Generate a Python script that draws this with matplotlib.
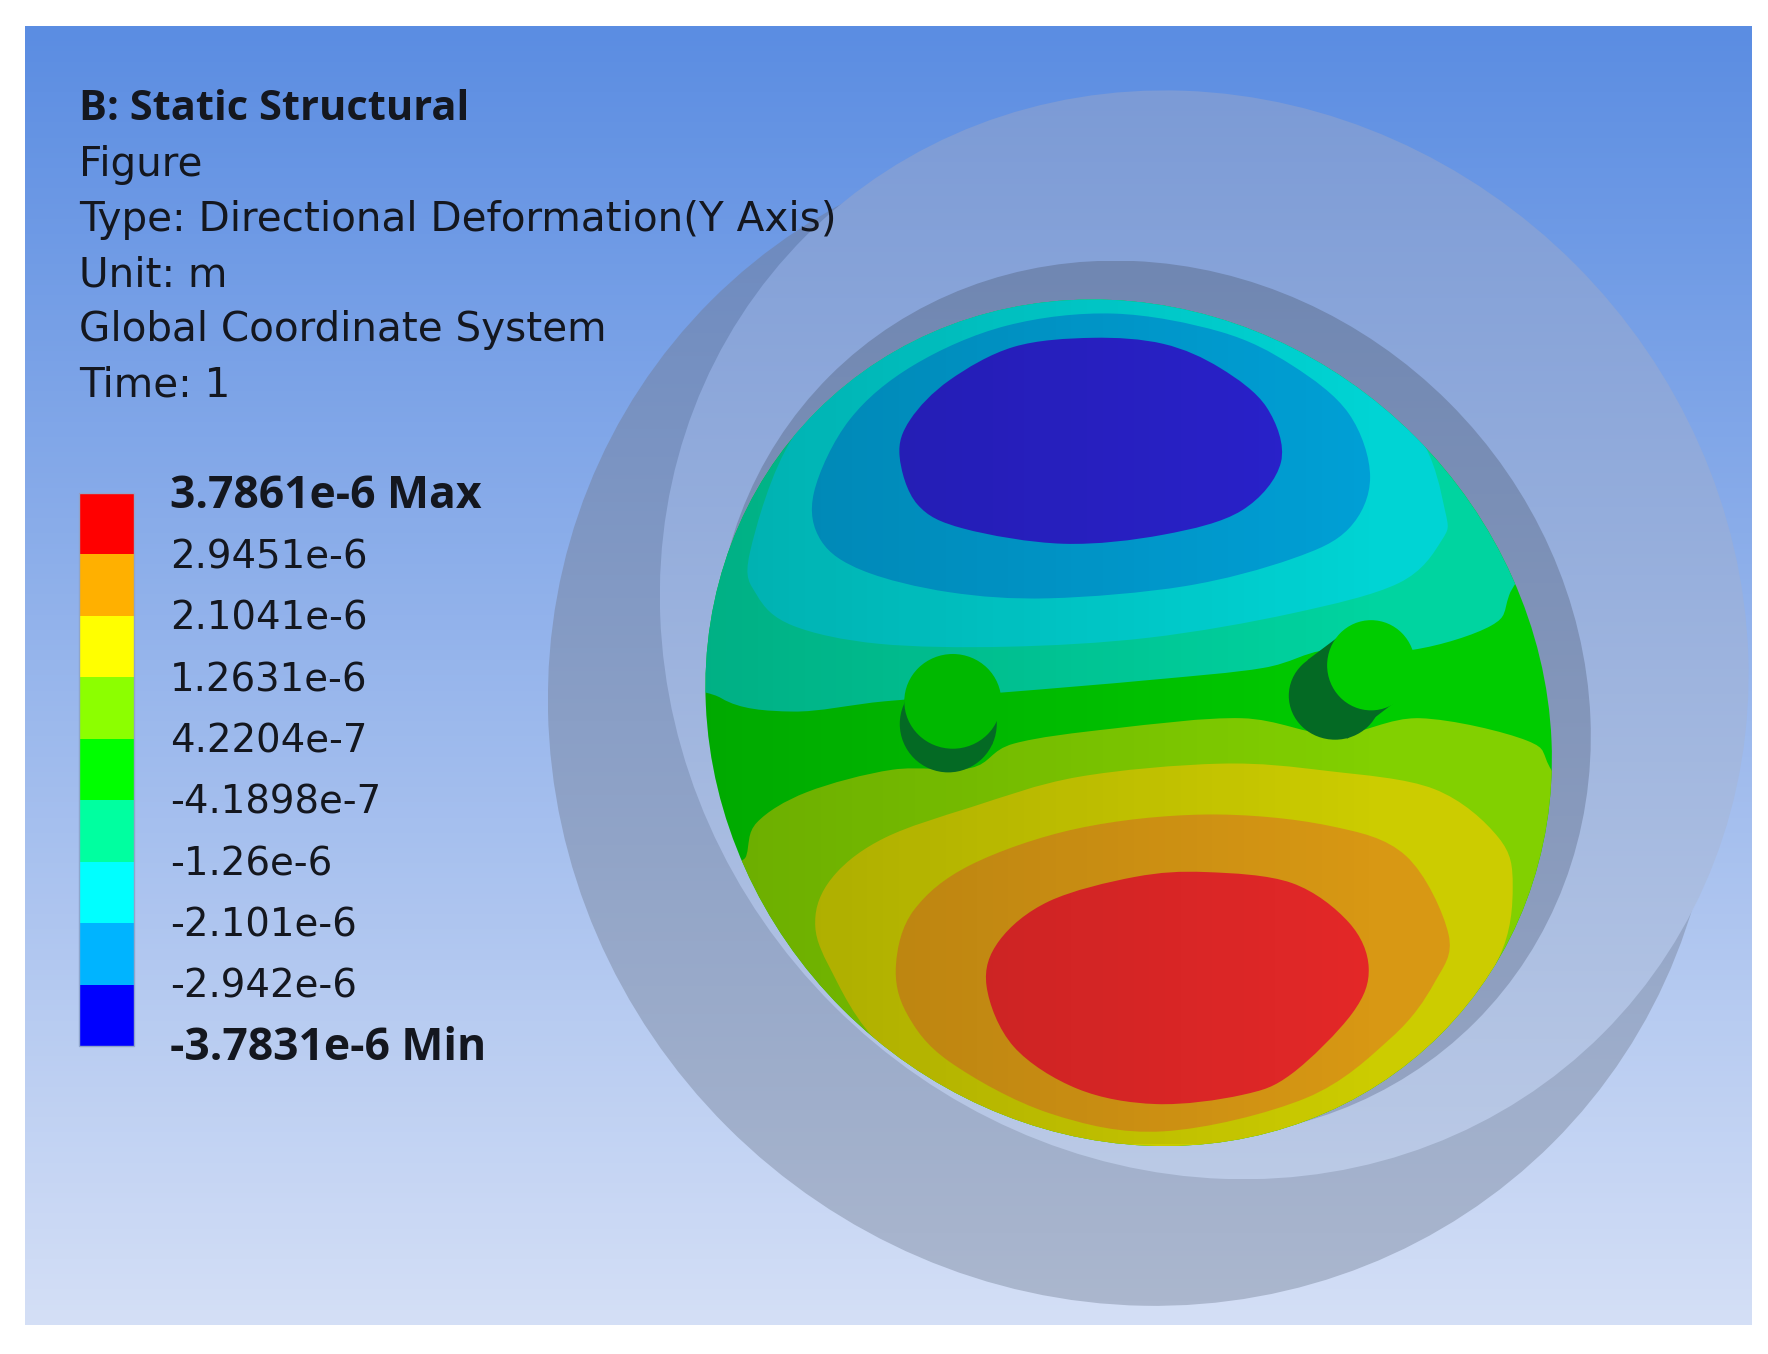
import numpy as np
import matplotlib
matplotlib.use('Agg')
import matplotlib.pyplot as plt
from matplotlib.path import Path
from matplotlib.patches import PathPatch, Ellipse, Rectangle, Polygon

# Text blocks
HEADER_TITLE = 'B: Static Structural'
HEADER_LINES = ['Figure', 'Type: Directional Deformation(Y Axis)', 'Unit: m',
                'Global Coordinate System', 'Time: 1']
LEGEND_LABELS = ['3.7861e-6 Max', '2.9451e-6', '2.1041e-6', '1.2631e-6', '4.2204e-7',
                 '-4.1898e-7', '-1.26e-6', '-2.101e-6', '-2.942e-6', '-3.7831e-6 Min']
LEGEND_COLOURS = ['#ff0000', '#ffb000', '#ffff00', '#8cff00', '#00ff00',
                  '#00ffa0', '#00ffff', '#00b4ff', '#0000ff']

# Housing and sphere as tilted ellipses: centre x, centre y, long axis, short axis
HOUSING_OUTER = (1004, 640, 1056, 1016)
HOUSING_FACE = (1068, 563, 1000, 930)
HOUSING_BORE = (1022, 620, 810, 744)
SPHERE = (1001, 641, 782, 718)

# Contour bands, in crop coordinates of the sphere region
BAND_TEAL = [(40, 650), (100, 740), (200, 762), (330, 745), (500, 730), (700, 710), (860, 690),
             (950, 660), (1070, 660), (1180, 620), (1205, 570), (1230, 450), (1100, 150),
             (620, 20), (150, 200)]
BAND_CYAN = [(140, 500), (150, 570), (200, 620), (320, 650), (500, 655), (700, 640), (900, 600),
             (1050, 550), (1110, 480), (1115, 430), (1075, 300), (950, 150), (800, 60), (620, 40),
             (440, 70), (320, 170), (200, 310)]
BAND_BLUE = [(230, 400), (240, 480), (300, 530), (420, 565), (560, 575), (750, 555), (900, 510),
             (980, 460), (1010, 375), (980, 270), (900, 190), (800, 135), (650, 105), (500, 125),
             (370, 190), (280, 280)]
BAND_DEEP = [(350, 340), (375, 420), (440, 460), (580, 485), (720, 470), (830, 430), (885, 350),
             (865, 260), (800, 195), (720, 155), (620, 145), (510, 160), (420, 215), (365, 280)]
BAND_LIME = [(135, 1000), (150, 945), (220, 895), (340, 858), (450, 855), (510, 815), (650, 790),
             (830, 773), (960, 800), (1080, 773), (1230, 810), (1265, 860), (1330, 1000),
             (1200, 1350), (700, 1540), (300, 1350), (120, 1060)]
BAND_YELLOW = [(232, 1100), (260, 1030), (330, 970), (450, 920), (600, 870), (800, 848), (950, 860),
               (1100, 890), (1190, 970), (1210, 1050), (1190, 1170), (1100, 1320), (900, 1460),
               (700, 1490), (500, 1440), (330, 1320), (250, 1180)]
BAND_ORANGE = [(345, 1180), (370, 1090), (450, 1015), (600, 955), (780, 932), (950, 950),
               (1060, 1000), (1120, 1130), (1100, 1210), (1040, 1300), (920, 1400), (720, 1455),
               (560, 1425), (420, 1340), (360, 1260)]
BAND_RED = [(472, 1215), (490, 1140), (560, 1075), (680, 1035), (780, 1027), (900, 1045),
            (980, 1110), (1008, 1185), (985, 1260), (900, 1360), (830, 1395), (710, 1410),
            (600, 1385), (510, 1315)]

# Pins in view coordinates: dark foot ellipse, link polygon, top ellipse
PIN_LEFT_FOOT = (841, 642, 86, 86)
PIN_LEFT_LINK = [(803, 615), (885, 630), (880, 660), (800, 650)]
PIN_LEFT_TOP = (845, 622, 86, 84)
PIN_RIGHT_FOOT = (1184, 617, 82, 78)
PIN_RIGHT_LINK = [(1160, 585), (1200, 555), (1238, 622), (1195, 655), (1150, 630)]
PIN_RIGHT_TOP = (1216, 590, 78, 80)


def to_view(points):
    pts = np.array(points, dtype=float)
    return pts * [0.6323, 0.5372] + [576.5, 221.7]


def smooth_path(points):
    # closed Catmull-Rom outline as bezier segments
    pts = np.array(points, dtype=float)
    n = len(pts)
    verts = [pts[0]]
    codes = [Path.MOVETO]
    for i in range(n):
        p0, p1, p2, p3 = pts[i - 1], pts[i], pts[(i + 1) % n], pts[(i + 2) % n]
        verts += [p1 + (p2 - p0) / 6, p2 - (p3 - p1) / 6, p2]
        codes += [Path.CURVE4] * 3
    return Path(np.array(verts), codes)


def rgb(c):
    return np.array(c) / 255


def tilted(ax, spec, zorder, **kw):
    e = Ellipse(spec[:2], spec[2], spec[3], angle=45, edgecolor='none', zorder=zorder, **kw)
    return ax.add_patch(e)


def vertical_fill(ax, spec, top, bottom, zorder):
    cx, cy, w, h = spec
    half = np.sqrt((w ** 2 + h ** 2) / 8)
    col = np.linspace(rgb(top), rgb(bottom), 256)[:, None, :]
    im = ax.imshow(col, extent=(cx - half, cx + half, cy + half, cy - half), aspect='auto', zorder=zorder)
    im.set_clip_path(tilted(ax, spec, -1, facecolor='none'))
    return im


fig = plt.figure(figsize=(17.68, 13.54), dpi=100, facecolor='white')
ax = fig.add_axes([0, 0, 1, 1])
ax.axis('off')
ax.set_xlim(0, 1568)
ax.set_ylim(1200.8, 0)

# background gradient
bg = np.linspace(rgb((91, 141, 226)), rgb((212, 223, 246)), 256)[:, None, :]
ax.imshow(bg, extent=(22, 1553, 1175, 23), aspect='auto', zorder=0)

# housing, stacked back to front
vertical_fill(ax, HOUSING_OUTER, (105, 135, 190), (171, 183, 206), 1)
vertical_fill(ax, HOUSING_FACE, (124, 155, 214), (187, 202, 230), 2)
vertical_fill(ax, HOUSING_BORE, (112, 135, 178), (150, 165, 195), 3)

# sphere bands, clipped to the sphere outline
sphere = tilted(ax, SPHERE, 4, facecolor='#00cc00')
bands = [(BAND_TEAL, '#00d4a0'), (BAND_CYAN, '#00d4d4'), (BAND_BLUE, '#00a0d6'), (BAND_DEEP, '#2a22ce'),
         (BAND_LIME, '#82d000'), (BAND_YELLOW, '#cccc00'), (BAND_ORANGE, '#d89814'), (BAND_RED, '#e42828')]
for z, (band, colour) in enumerate(bands):
    patch = PathPatch(smooth_path(to_view(band)), facecolor=colour, edgecolor='none', zorder=5 + z * 0.1)
    ax.add_patch(patch)
    patch.set_clip_path(sphere)

# left side of the sphere is a bit darker
shade = np.zeros((2, 256, 4))
shade[:, :, 3] = np.linspace(0.17, 0.0, 256)
im = ax.imshow(shade, extent=(624, 1228, 1015, 267), aspect='auto', zorder=6)
im.set_clip_path(sphere)

# pins
for foot, link, top, colour in [(PIN_LEFT_FOOT, PIN_LEFT_LINK, PIN_LEFT_TOP, '#00b800'),
                                (PIN_RIGHT_FOOT, PIN_RIGHT_LINK, PIN_RIGHT_TOP, '#00cc00')]:
    ax.add_patch(Ellipse(foot[:2], foot[2], foot[3], facecolor='#046a24', edgecolor='none', zorder=7))
    ax.add_patch(Polygon(link, closed=True, facecolor='#046a24', edgecolor='none', zorder=7))
    ax.add_patch(Ellipse(top[:2], top[2], top[3], facecolor=colour, edgecolor='none', zorder=8))

# legend colour bar
seg = (928 - 437) / len(LEGEND_COLOURS)
for i, colour in enumerate(LEGEND_COLOURS):
    ax.bar(94.5, seg, width=49, bottom=437 + i * seg, color=colour, linewidth=0, zorder=9)
ax.add_patch(Rectangle((70, 437), 49, 491, fill=False, edgecolor='#8fa5cc', linewidth=1, zorder=10))

regular = ['DejaVu Sans']
bold = ['Open Sans', 'DejaVu Sans']
ink = '#14171f'
ax.text(70, 97, HEADER_TITLE, fontsize=30, fontweight='bold', family=bold, color=ink, va='center', zorder=11)
for i, line in enumerate(HEADER_LINES):
    ax.text(70, 146 + i * 49, line, fontsize=29.2, family=regular, color=ink, va='center', zorder=11)
for i, label in enumerate(LEGEND_LABELS):
    heavy = i in (0, len(LEGEND_LABELS) - 1)
    ax.text(151, 440 + i * 54.4, label, fontsize=32 if heavy else 27.8, family=bold if heavy else regular,
            color=ink, fontweight='bold' if heavy else 'normal', va='center', zorder=11)

fig.savefig('out.png', dpi=100, facecolor='white')
